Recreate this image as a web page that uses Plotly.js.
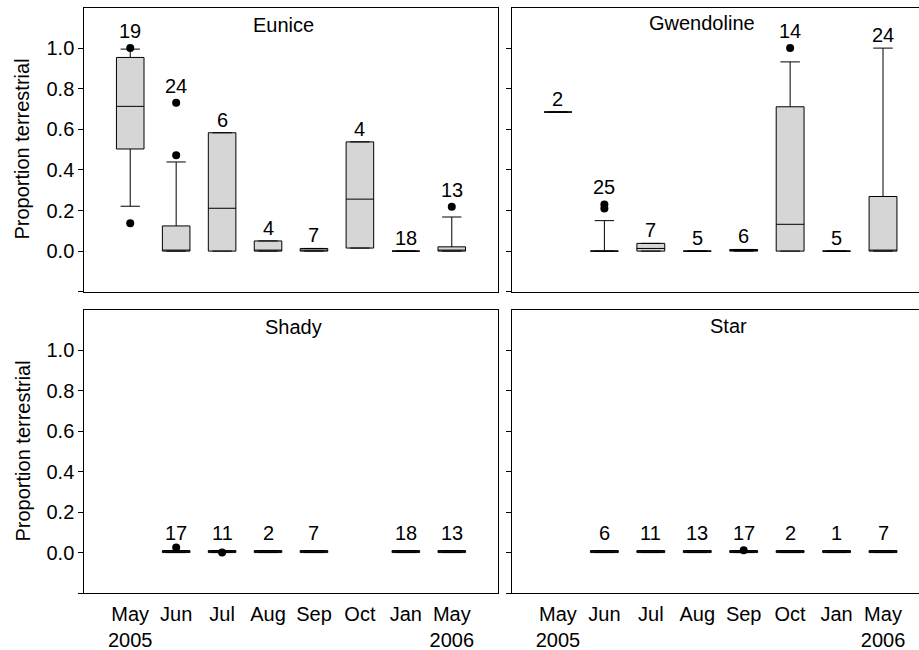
<!DOCTYPE html>
<html><head><meta charset="utf-8">
<script src="https://cdn.plot.ly/plotly-3.0.1.min.js"></script>
<style>html,body{margin:0;padding:0;overflow:hidden;background:#fff}#chart{width:919px;height:650px}</style>
</head><body><div id="chart"></div>
<script>
// ---------- data ----------
const categories = ["May 2005","Jun","Jul","Aug","Sep","Oct","Jan","May 2006"];
const tickLabels = ["May<br>2005","Jun","Jul","Aug","Sep","Oct","Jan","May<br>2006"];
const yTickVals = [-0.2,0,0.2,0.4,0.6,0.8,1.0];
const yTickText = ["","0.0","0.2","0.4","0.6","0.8","1.0"];

// Eunice
const euniceMonths = ["May 2005","Jun","Jul","Aug","Sep","Oct","Jan","May 2006"];
const euniceN      = [19,24,6,4,7,4,18,13];
const euniceQ1     = [0.503,0,0,0,0,0.015,0,0];
const euniceMedian = [0.713,0,0.211,0,0,0.256,0,0.004];
const euniceQ3     = [0.954,0.124,0.583,0.05,0.013,0.538,0,0.021];
const euniceLower  = [0.221,0,0,0,0,0.015,0,0];
const euniceUpper  = [0.995,0.439,0.583,0.05,0.013,0.538,0,0.168];
const euniceOutMonths = ["May 2005","May 2005","Jun","Jun","May 2006"];
const euniceOutValues = [0.137,1.0,0.472,0.731,0.219];

// Gwendoline
const gwenMonths = ["May 2005","Jun","Jul","Aug","Sep","Oct","Jan","May 2006"];
const gwenN      = [2,25,7,5,6,14,5,24];
const gwenQ1     = [0.685,0,0,0,0,0,0,0];
const gwenMedian = [0.685,0,0.013,0,0,0.132,0,0];
const gwenQ3     = [0.685,0,0.038,0,0.008,0.711,0,0.269];
const gwenLower  = [0.685,0,0,0,0,0,0,0];
const gwenUpper  = [0.685,0.15,0.038,0,0.008,0.932,0,1.0];
const gwenOutMonths = ["Jun","Jun","Oct"];
const gwenOutValues = [0.21,0.23,1.0];

// Shady
const shadyMonths = ["Jun","Jul","Aug","Sep","Jan","May 2006"];
const shadyN      = [17,11,2,7,18,13];
const shadyQ1     = [0,0,0,0,0,0];
const shadyMedian = [0,0,0,0,0,0];
const shadyQ3     = [0.01,0.01,0.01,0.01,0.01,0.01];
const shadyLower  = [0,0,0,0,0,0];
const shadyUpper  = [0.01,0.01,0.01,0.01,0.01,0.01];
const shadyOutMonths = ["Jun","Jul"];
const shadyOutValues = [0.025,0.0];

// Star
const starMonths = ["Jun","Jul","Aug","Sep","Oct","Jan","May 2006"];
const starN      = [6,11,13,17,2,1,7];
const starQ1     = [0,0,0,0,0,0,0];
const starMedian = [0,0,0,0,0,0,0];
const starQ3     = [0.01,0.01,0.01,0.01,0.01,0.01,0.01];
const starLower  = [0,0,0,0,0,0,0];
const starUpper  = [0.01,0.01,0.01,0.01,0.01,0.01,0.01];
const starOutMonths = ["Sep"];
const starOutValues = [0.012];

// ---------- build ----------
const FONT = "Liberation Sans, Arial, Helvetica, sans-serif";
const panels = [
  {name:"Eunice", xa:"x", ya:"y", months:euniceMonths, n:euniceN, q1:euniceQ1, med:euniceMedian, q3:euniceQ3, lo:euniceLower, up:euniceUpper, om:euniceOutMonths, ov:euniceOutValues, tx:0.481, tshift:-5, useOut:true, lshift:0},
  {name:"Gwendoline", xa:"x2", ya:"y2", months:gwenMonths, n:gwenN, q1:gwenQ1, med:gwenMedian, q3:gwenQ3, lo:gwenLower, up:gwenUpper, om:gwenOutMonths, ov:gwenOutValues, tx:0.4675, tshift:-3, useOut:true, lshift:0},
  {name:"Shady", xa:"x3", ya:"y3", months:shadyMonths, n:shadyN, q1:shadyQ1, med:shadyMedian, q3:shadyQ3, lo:shadyLower, up:shadyUpper, om:shadyOutMonths, ov:shadyOutValues, tx:0.505, tshift:-4, useOut:false, lshift:5},
  {name:"Star", xa:"x4", ya:"y4", months:starMonths, n:starN, q1:starQ1, med:starMedian, q3:starQ3, lo:starLower, up:starUpper, om:starOutMonths, ov:starOutValues, tx:0.5325, tshift:-3, useOut:false, lshift:5}
];

const traces = [];
const annotations = [];
panels.forEach(p => {
  traces.push({
    type:"box", x:p.months, q1:p.q1, median:p.med, q3:p.q3,
    lowerfence:p.lo, upperfence:p.up, xaxis:p.xa, yaxis:p.ya,
    width:0.6, whiskerwidth:0.7, boxpoints:false,
    fillcolor:"#d6d6d6", line:{color:"#000", width:1},
    hoverinfo:"skip", showlegend:false
  });
  traces.push({
    type:"scatter", mode:"markers", x:p.om, y:p.ov, xaxis:p.xa, yaxis:p.ya,
    marker:{color:"#000", size:8}, hoverinfo:"skip", showlegend:false
  });
  p.months.forEach((m,i) => {
    let top = Math.max(p.q3[i], p.up[i]);
    let shift = p.lshift;
    if (p.useOut) {
      p.om.forEach((om,j) => {
        if (om === m && p.ov[j] > top) { top = p.ov[j]; shift = 4; }
      });
    }
    annotations.push({
      xref:p.xa, yref:p.ya, x:m, y:top, text:String(p.n[i]),
      showarrow:false, yanchor:"bottom", xanchor:"center", yshift:shift,
      font:{family:FONT, size:20, color:"#000"}
    });
  });
  annotations.push({
    xref:p.xa+" domain", yref:p.ya+" domain", x:p.tx, y:1, yanchor:"top", xanchor:"center",
    yshift:p.tshift, text:p.name, showarrow:false, font:{family:FONT, size:20, color:"#000"}
  });
});
["y","y3"].forEach(ya => {
  annotations.push({
    xref:"paper", yref:ya+" domain", x:22/919, y:0.5, xanchor:"center", yanchor:"middle",
    textangle:-90, text:"Proportion terrestrial", showarrow:false,
    font:{family:FONT, size:20, color:"#000"}
  });
});

const xLeft = [84.3/919, 497.7/919];
const xRight = [511.5/919, 1];
const yTop = [1-291.7/650, 1-7.5/650];
const yBot = [1-593/650, 1-310/650];

function xAxis(domain, range, anchor, labels) {
  return {
    domain, range, anchor, type:"category", categoryorder:"array", categoryarray:categories,
    tickvals:categories, ticktext:tickLabels, showticklabels:labels, ticks:"",
    ticklabelstandoff:3,
    showgrid:false, zeroline:false, showline:true, linecolor:"#000", linewidth:1, mirror:true,
    tickfont:{family:FONT, size:20, color:"#000"}, fixedrange:true
  };
}
function yAxis(domain, anchor, labels, mirror) {
  return {
    domain, anchor, range:[-0.2,1.2], tickmode:"array", tickvals:yTickVals, ticktext:yTickText,
    showticklabels:labels, ticks:"outside", ticklen:5, tickwidth:1, tickcolor:"#000",
    showgrid:false, zeroline:false, showline:true, linecolor:"#000", linewidth:1, mirror:mirror,
    tickfont:{family:FONT, size:20, color:"#000"}, fixedrange:true
  };
}

const layout = {
  width:919, height:650, margin:{l:0,r:0,t:0,b:0},
  paper_bgcolor:"#fff", plot_bgcolor:"#fff", showlegend:false,
  font:{family:FONT, size:20, color:"#000"},
  xaxis: xAxis(xLeft, [-1,8], "y", false),
  yaxis: yAxis(yTop, "x", true, true),
  xaxis2: xAxis(xRight, [-1,7.775], "y2", false),
  yaxis2: yAxis(yTop, "x2", false, false),
  xaxis3: xAxis(xLeft, [-1,8], "y3", true),
  yaxis3: yAxis(yBot, "x3", true, true),
  xaxis4: xAxis(xRight, [-1,7.775], "y4", true),
  yaxis4: yAxis(yBot, "x4", false, false),
  annotations
};

Plotly.newPlot("chart", traces, layout, {staticPlot:true, displayModeBar:false});
</script>
</body></html>
